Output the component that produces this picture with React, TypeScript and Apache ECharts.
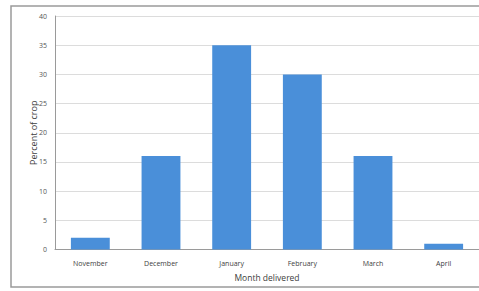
import React, { useEffect, useRef } from "react";
import * as echarts from "echarts";

const categories = ["November", "December", "January", "February", "March", "April"];
const percentValues = [2, 16, 35, 30, 16, 1];
const yAxisTitle = "Percent of crop";
const xAxisTitle = "Month delivered";

export default function App() {
  const ref = useRef<HTMLDivElement>(null);
  useEffect(() => {
    if (!ref.current) return;
    const chart = echarts.init(ref.current, null, { renderer: "svg" });
    chart.setOption({
      animation: false,
      backgroundColor: "#ffffff",
      textStyle: { fontFamily: "Open Sans" },
      graphic: [
        {
          type: "rect",
          shape: { x: 11, y: 6, width: 480, height: 281 },
          style: { fill: "none", stroke: "#9a9a9a", lineWidth: 1.5 },
          z: 0,
        },
      ],
      grid: { left: 55, top: 16, width: 426, height: 233.5 },
      xAxis: {
        type: "category",
        data: categories,
        name: xAxisTitle,
        nameLocation: "middle",
        nameGap: 23,
        nameMoveOverlap: false,
        nameTextStyle: { fontSize: 8.5, color: "#404040" },
        axisLine: { lineStyle: { color: "#9a9a9a", width: 1 } },
        axisTick: { show: false },
        axisLabel: { fontSize: 7, color: "#404040", margin: 10 },
      },
      yAxis: {
        type: "value",
        min: 0,
        max: 40,
        interval: 5,
        name: yAxisTitle,
        nameLocation: "middle",
        nameGap: 17,
        nameMoveOverlap: false,
        nameTextStyle: { fontSize: 9, color: "#404040" },
        axisLine: { show: true, lineStyle: { color: "#9a9a9a", width: 1 } },
        axisTick: { show: false },
        axisLabel: { fontSize: 7, color: "#555555", margin: 8 },
        splitLine: { lineStyle: { color: "#dcdcdc", width: 1 } },
      },
      series: [
        {
          type: "bar",
          data: percentValues,
          barWidth: "55%",
          itemStyle: { color: "#4a8fd9" },
        },
      ],
    });
    return () => chart.dispose();
  }, []);
  return (
    <div
      ref={ref}
      style={{ position: "fixed", left: 0, top: 0, width: 479, height: 291 }}
    />
  );
}
